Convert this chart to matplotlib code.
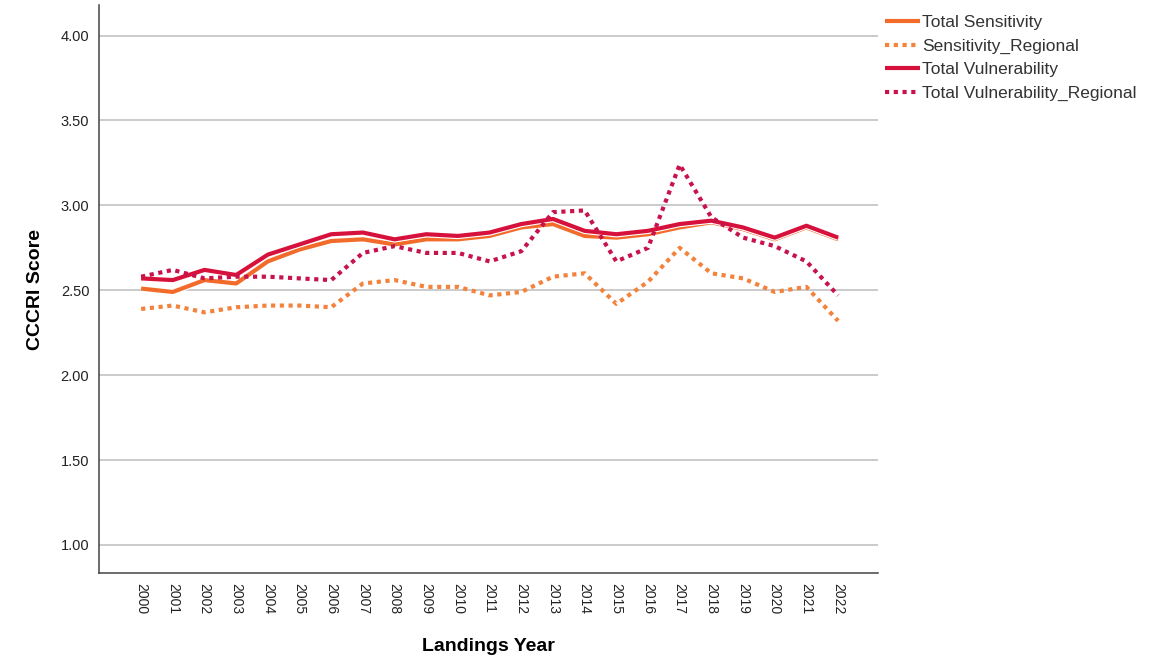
import matplotlib
matplotlib.use("Agg")
import matplotlib.pyplot as plt
import matplotlib.patheffects as pe

plt.rcParams['font.family'] = ['Liberation Sans', 'DejaVu Sans']

years = list(range(2000, 2023))

total_sensitivity = [2.51, 2.49, 2.56, 2.54, 2.67, 2.74, 2.79, 2.80, 2.77, 2.80, 2.80, 2.82,
                     2.87, 2.89, 2.82, 2.81, 2.83, 2.87, 2.90, 2.86, 2.80, 2.87, 2.80]
sensitivity_regional = [2.39, 2.41, 2.37, 2.40, 2.41, 2.41, 2.40, 2.54, 2.56, 2.52, 2.52, 2.47,
                        2.49, 2.58, 2.60, 2.42, 2.55, 2.75, 2.60, 2.57, 2.49, 2.52, 2.32]
total_vulnerability = [2.57, 2.56, 2.62, 2.59, 2.71, 2.77, 2.83, 2.84, 2.80, 2.83, 2.82, 2.84,
                       2.89, 2.92, 2.85, 2.83, 2.85, 2.89, 2.91, 2.87, 2.81, 2.88, 2.81]
vulnerability_regional = [2.58, 2.62, 2.57, 2.58, 2.58, 2.57, 2.56, 2.72, 2.76, 2.72, 2.72, 2.67,
                          2.73, 2.96, 2.97, 2.67, 2.75, 3.24, 2.93, 2.81, 2.76, 2.67, 2.47]

y_ticks = [1.00, 1.50, 2.00, 2.50, 3.00, 3.50, 4.00]

fig = plt.figure(figsize=(11.61, 6.60), dpi=100)
ax = fig.add_axes([99 / 1161, 1 - 573 / 660, (878 - 99) / 1161, (573 - 5) / 660])

outline = [pe.Stroke(linewidth=4.6, foreground='white'), pe.Normal()]
dots = (0, (1, 1.1))

ax.plot(years, total_sensitivity, color='#f26b2b', lw=3, solid_capstyle='butt',
        label='Total Sensitivity', path_effects=outline, zorder=3)
ax.plot(years, sensitivity_regional, color='#f3833c', lw=3, linestyle=dots,
        dash_capstyle='butt', label='Sensitivity_Regional', zorder=3)
ax.plot(years, total_vulnerability, color='#d6123c', lw=3, solid_capstyle='butt',
        label='Total Vulnerability', path_effects=outline, zorder=4)
ax.plot(years, vulnerability_regional, color='#c8124c', lw=3, linestyle=dots,
        dash_capstyle='butt', label='Total Vulnerability_Regional', zorder=5)

ax.set_xlim(1998.67, 2023.26)
ax.set_ylim(0.835, 4.18)
ax.set_xticks(years)
ax.set_xticklabels([str(y) for y in years], rotation=270, fontsize=10, color='#222222')
ax.set_yticks(y_ticks)
ax.set_yticklabels([f'{v:.2f}' for v in y_ticks], fontsize=10.5, color='#222222')
ax.tick_params(length=0)
ax.tick_params(axis='y', pad=7)
ax.tick_params(axis='x', pad=7)
ax.grid(axis='y', color='#bdbdbd', lw=1.1)
ax.set_axisbelow(True)
for s in ['top', 'right']:
    ax.spines[s].set_visible(False)
for s in ['left', 'bottom']:
    ax.spines[s].set_color('#444444')
    ax.spines[s].set_linewidth(1.1)

ax.set_xlabel('Landings Year', fontsize=14, fontweight='bold', labelpad=17)
ax.set_ylabel('CCCRI Score', fontsize=14, fontweight='bold', labelpad=12)

leg = fig.legend(loc='upper left', bbox_to_anchor=(878 / 1161, 1 - 8 / 660), frameon=False,
                 fontsize=12.5, handlelength=2.0, handletextpad=0.15, labelspacing=0.48,
                 borderaxespad=0)
for t in leg.get_texts():
    t.set_color('#333333')

fig.savefig('out.png', dpi=100)
